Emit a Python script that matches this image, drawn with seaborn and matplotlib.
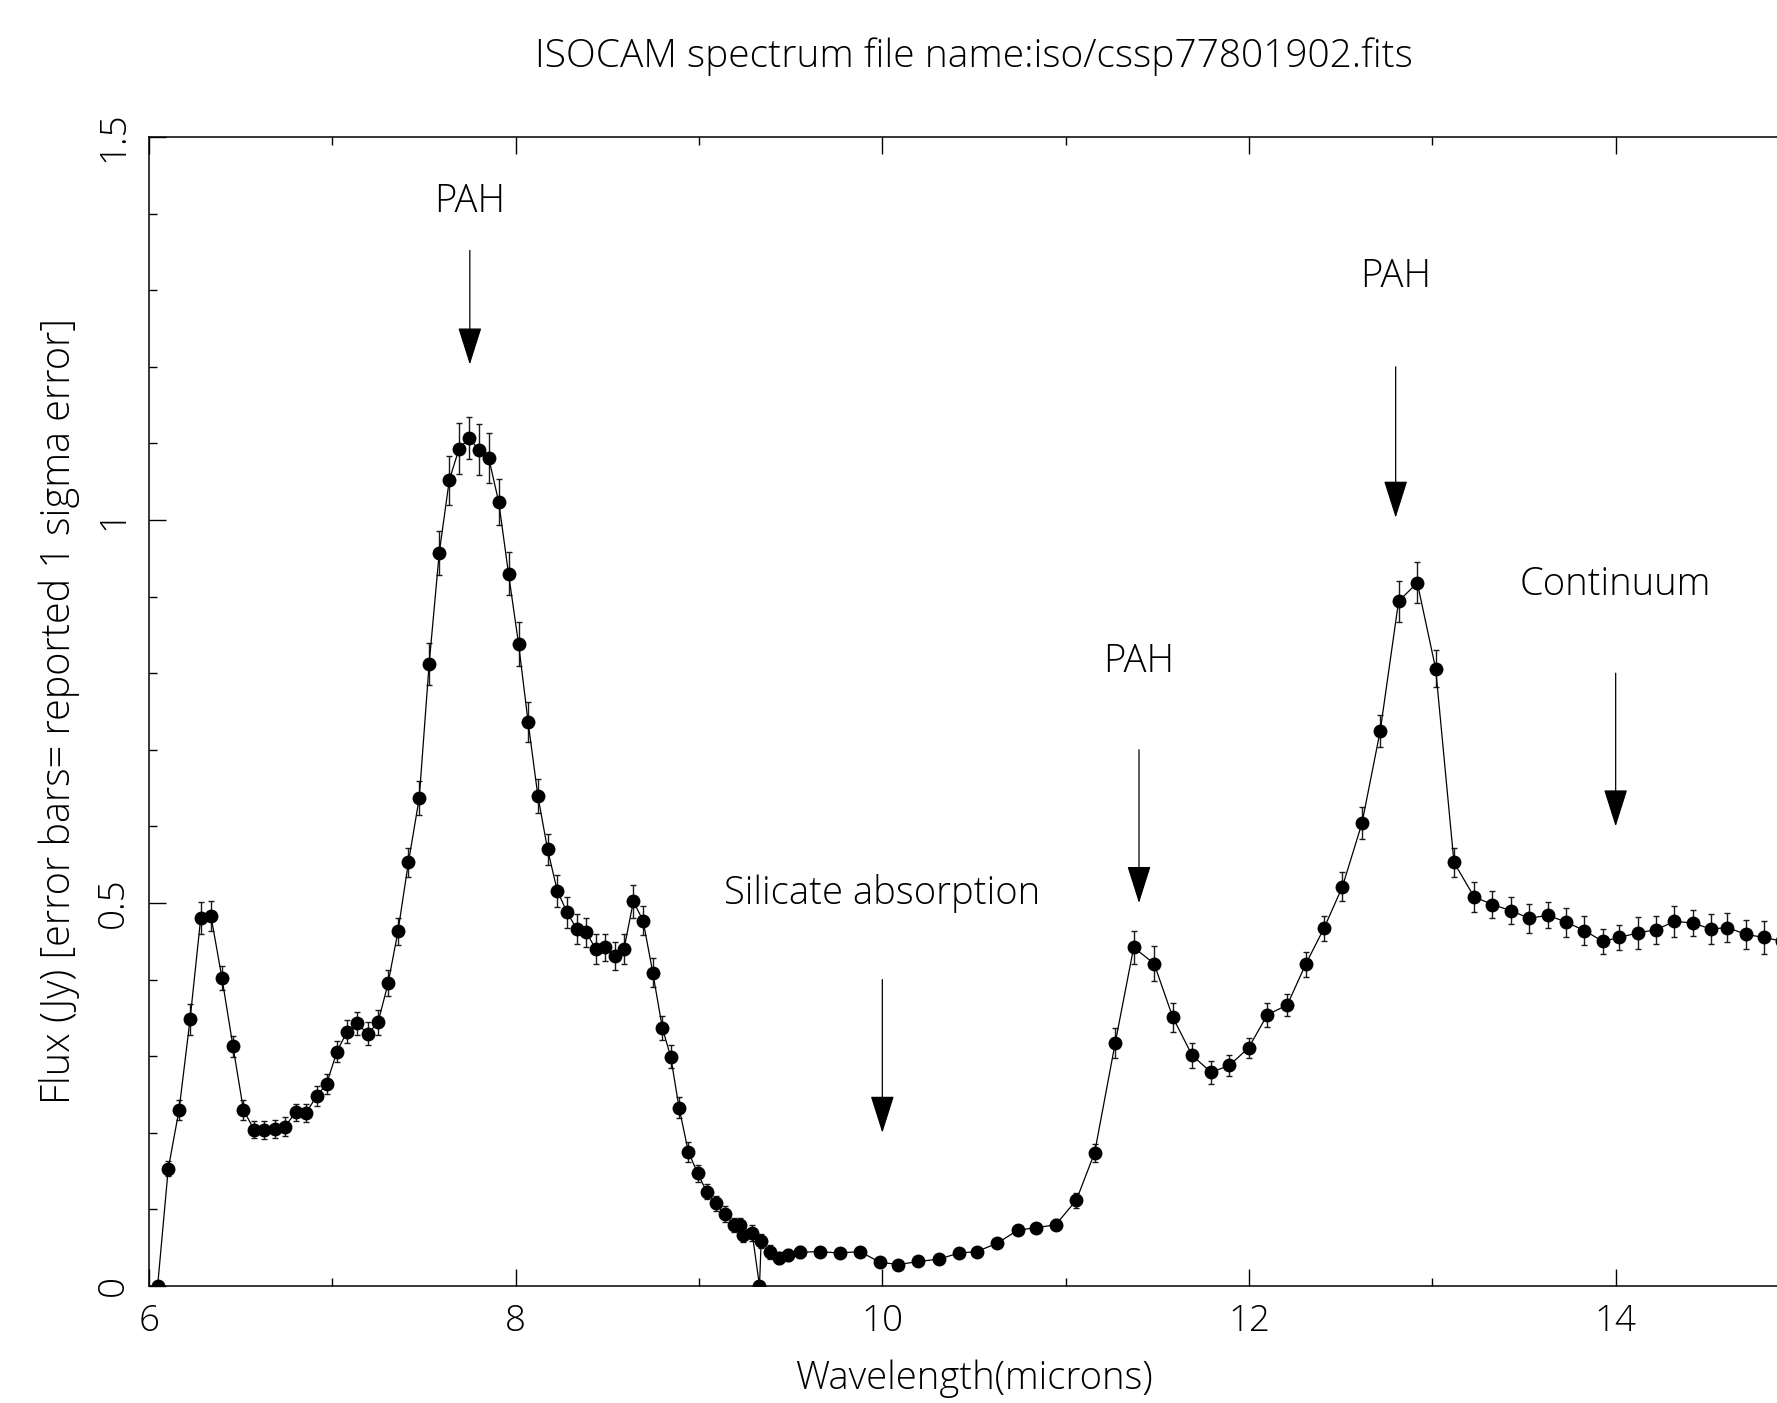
import numpy as np
import matplotlib
matplotlib.use("Agg")
import matplotlib.pyplot as plt
from matplotlib.ticker import MultipleLocator
import seaborn as sns

wavelength = [6.047, 6.105, 6.164, 6.224, 6.282, 6.338, 6.398, 6.458, 6.515, 6.573,
              6.629, 6.685, 6.742, 6.800, 6.856, 6.915, 6.969, 7.025, 7.080, 7.136,
              7.193, 7.249, 7.304, 7.358, 7.415, 7.474, 7.528, 7.583, 7.638, 7.691,
              7.746, 7.798, 7.853, 7.908, 7.961, 8.016, 8.068, 8.121, 8.174, 8.227,
              8.280, 8.333, 8.385, 8.436, 8.489, 8.540, 8.591, 8.642, 8.695, 8.748,
              8.800, 8.846, 8.891, 8.942, 8.993, 9.042, 9.091, 9.140, 9.192, 9.221,
              9.241, 9.290, 9.330, 9.339, 9.388, 9.437, 9.486, 9.551, 9.658, 9.767,
              9.876, 9.988, 10.088, 10.197, 10.307, 10.418, 10.516, 10.628, 10.739, 10.837,
              10.946, 11.058, 11.158, 11.270, 11.371, 11.482, 11.584, 11.690, 11.793, 11.893,
              11.998, 12.100, 12.209, 12.309, 12.409, 12.509, 12.616, 12.716, 12.816, 12.918,
              13.018, 13.118, 13.228, 13.328, 13.429, 13.529, 13.630, 13.730, 13.830, 13.929,
              14.020, 14.120, 14.220, 14.320, 14.420, 14.520, 14.610, 14.710, 14.810, 14.910]

flux = [0.000, 0.153, 0.230, 0.348, 0.480, 0.483, 0.402, 0.313, 0.230, 0.204,
        0.204, 0.205, 0.208, 0.227, 0.226, 0.248, 0.264, 0.306, 0.332, 0.343,
        0.329, 0.344, 0.395, 0.463, 0.553, 0.637, 0.812, 0.957, 1.052, 1.093,
        1.107, 1.092, 1.081, 1.023, 0.930, 0.838, 0.736, 0.640, 0.570, 0.516,
        0.488, 0.466, 0.462, 0.440, 0.442, 0.431, 0.440, 0.502, 0.477, 0.409,
        0.337, 0.299, 0.233, 0.175, 0.147, 0.123, 0.108, 0.094, 0.080, 0.080,
        0.066, 0.069, 0.000, 0.059, 0.044, 0.037, 0.040, 0.044, 0.045, 0.043,
        0.045, 0.031, 0.028, 0.032, 0.035, 0.043, 0.045, 0.056, 0.073, 0.076,
        0.080, 0.112, 0.174, 0.317, 0.442, 0.421, 0.351, 0.301, 0.279, 0.288,
        0.311, 0.354, 0.367, 0.420, 0.467, 0.521, 0.604, 0.725, 0.894, 0.918,
        0.806, 0.553, 0.508, 0.498, 0.490, 0.480, 0.484, 0.475, 0.464, 0.450,
        0.455, 0.461, 0.465, 0.476, 0.474, 0.466, 0.468, 0.459, 0.455, 0.450]

flux_err = [0.000, 0.010, 0.013, 0.020, 0.021, 0.019, 0.016, 0.014, 0.013, 0.011,
            0.012, 0.012, 0.012, 0.011, 0.012, 0.013, 0.013, 0.014, 0.015, 0.015,
            0.015, 0.016, 0.017, 0.018, 0.019, 0.022, 0.028, 0.029, 0.032, 0.033,
            0.027, 0.033, 0.033, 0.030, 0.028, 0.029, 0.026, 0.022, 0.020, 0.021,
            0.020, 0.019, 0.019, 0.019, 0.018, 0.018, 0.019, 0.021, 0.019, 0.019,
            0.016, 0.015, 0.014, 0.013, 0.011, 0.010, 0.010, 0.010, 0.009, 0.009,
            0.009, 0.010, 0.000, 0.009, 0.009, 0.008, 0.008, 0.008, 0.006, 0.006,
            0.006, 0.006, 0.006, 0.006, 0.006, 0.006, 0.006, 0.006, 0.006, 0.006,
            0.007, 0.010, 0.012, 0.020, 0.022, 0.023, 0.019, 0.016, 0.015, 0.014,
            0.013, 0.016, 0.014, 0.016, 0.016, 0.019, 0.021, 0.021, 0.027, 0.027,
            0.024, 0.019, 0.020, 0.018, 0.018, 0.019, 0.017, 0.019, 0.019, 0.016,
            0.016, 0.021, 0.018, 0.020, 0.017, 0.019, 0.019, 0.019, 0.021, 0.020]

annot_labels = ["PAH", "PAH", "PAH", "Continuum", "Silicate absorption"]
annot_x = [7.75, 11.40, 12.80, 14.00, 10.00]
annot_text_y = [1.415, 0.815, 1.317, 0.915, 0.513]
annot_arrow_top = [1.352, 0.700, 1.200, 0.800, 0.400]
annot_arrow_tip = [1.203, 0.500, 1.003, 0.600, 0.200]

title = "ISOCAM spectrum file name:iso/cssp77801902.fits"
xlabel = "Wavelength(microns)"
ylabel = "Flux (Jy) [error bars= reported 1 sigma error]"

sns.set_theme(style="ticks")
plt.rcParams["font.family"] = ["Open Sans", "DejaVu Sans"]
plt.rcParams["font.weight"] = "light"
ink = "black"
FS = 27.5

fig = plt.figure(figsize=(17.77, 14.03), dpi=100)
fig.patch.set_facecolor("white")
ax = fig.add_axes([149 / 1777, 117 / 1403, 1650 / 1777, 1149 / 1403])
ax.set_facecolor("white")

ax.errorbar(wavelength, flux, yerr=flux_err, fmt="none", ecolor="#1a1a1a",
            elinewidth=1.0, capsize=2.3, capthick=1.0, zorder=2)
sns.lineplot(x=wavelength, y=flux, ax=ax, color="black", linewidth=0.9,
             marker="o", markersize=10, markeredgewidth=0, markerfacecolor="black",
             sort=False, zorder=3)

for lab, xa, ty, top, tip in zip(annot_labels, annot_x, annot_text_y,
                                  annot_arrow_top, annot_arrow_tip):
    ax.text(xa, ty, lab, ha="center", va="center", fontsize=FS,
            fontweight="light", color=ink)
    ax.annotate("", xy=(xa, tip), xytext=(xa, top),
                arrowprops=dict(arrowstyle="-|>,head_length=1.2,head_width=0.38",
                                mutation_scale=20, color="black", lw=0.9,
                                shrinkA=0, shrinkB=0))

ax.set_xlim(6, 15)
ax.set_ylim(0, 1.5)
ax.xaxis.set_major_locator(MultipleLocator(2))
ax.xaxis.set_minor_locator(MultipleLocator(1))
ax.yaxis.set_major_locator(MultipleLocator(0.5))
ax.yaxis.set_minor_locator(MultipleLocator(0.1))
ax.set_xticks([6, 8, 10, 12, 14])
ax.set_xticklabels(["6", "8", "10", "12", "14"])
ax.set_yticks([0, 0.5, 1.0, 1.5])
ax.set_yticklabels(["0", "0.5", "1", "1.5"])

ax.tick_params(which="both", direction="in", top=True, right=True,
               color=ink, width=1.0, labelcolor=ink)
ax.tick_params(which="major", length=12)
ax.tick_params(which="minor", length=6)
ax.tick_params(axis="x", which="major", labelsize=26.5, pad=12)
ax.tick_params(axis="y", which="major", labelsize=26.5, pad=12, labelrotation=90)
for lbl in ax.get_yticklabels():
    lbl.set_va("center")
for lbl in ax.get_xticklabels() + ax.get_yticklabels():
    lbl.set_fontweight("light")

for side in ["left", "bottom", "top", "right"]:
    ax.spines[side].set_color(ink)
    ax.spines[side].set_linewidth(1.1)

ax.set_xlabel(xlabel, fontsize=FS, fontweight="light", color=ink)
ax.xaxis.set_label_coords(0.5, -112 / 1149)
ax.xaxis.label.set_va("bottom")
ax.set_ylabel(ylabel, fontsize=28.5, fontweight="light", color=ink)
ax.yaxis.set_label_coords(-90 / 1650, 0.5)
ax.yaxis.label.set_va("center")

ax.text(0.5, 1 + 80 / 1149, title, transform=ax.transAxes, ha="center",
        va="center", fontsize=28, fontweight="light", color=ink)

fig.savefig("out.png", dpi=100, facecolor="white")
